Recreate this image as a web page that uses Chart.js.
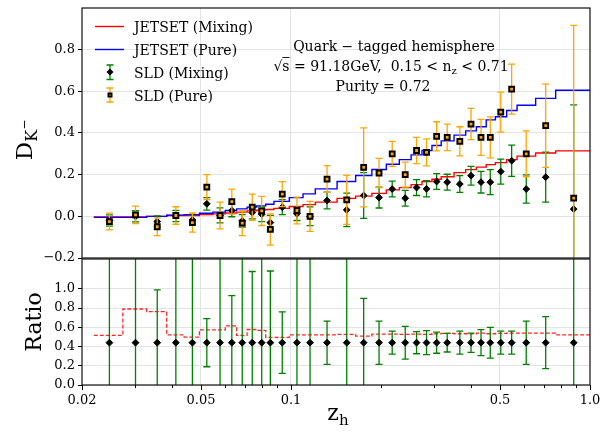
<!DOCTYPE html>
<html>
<head>
<meta charset="utf-8">
<script src="https://cdn.jsdelivr.net/npm/chart.js@4"></script>
<style>
  html, body { margin: 0; padding: 0; background: #fff; }
  #wrap { position: relative; width: 602px; height: 436px; }
  #topBox { position: absolute; left: 0; top: 0; width: 602px; height: 264px; }
  #botBox { position: absolute; left: 0; top: 254px; width: 602px; height: 182px; }
</style>
</head>
<body>
<div id="wrap">
  <div id="topBox"><canvas id="topChart"></canvas></div>
  <div id="botBox"><canvas id="ratioChart"></canvas></div>
</div>
<script>
// bin edges of the JETSET histograms (z_h)
const binEdges = [0.0219, 0.0274, 0.0329, 0.0384, 0.0439, 0.0494, 0.0548, 0.0603, 0.0658, 0.0713,
  0.0768, 0.0823, 0.0877, 0.0987, 0.1097, 0.1206, 0.1426, 0.1645, 0.1864, 0.2084,
  0.2303, 0.2522, 0.2742, 0.2961, 0.3180, 0.3510, 0.3839, 0.4168, 0.4497, 0.4826,
  0.5264, 0.5703, 0.6580, 0.7677, 1.0];

const jetsetPure = [-0.005, -0.005, 0.0, 0.006, 0.008, 0.015, 0.02, 0.028, 0.036, 0.044,
  0.05, 0.058, 0.072, 0.09, 0.108, 0.132, 0.167, 0.196, 0.225, 0.25,
  0.272, 0.295, 0.316, 0.34, 0.362, 0.39, 0.41, 0.43, 0.463, 0.478,
  0.508, 0.533, 0.566, 0.605];

const jetsetMixing = [-0.003, -0.003, 0.0, 0.004, 0.004, 0.008, 0.012, 0.016, 0.02, 0.026,
  0.03, 0.033, 0.038, 0.047, 0.056, 0.068, 0.086, 0.097, 0.11, 0.127,
  0.138, 0.152, 0.167, 0.178, 0.19, 0.21, 0.224, 0.236, 0.248, 0.258,
  0.272, 0.289, 0.304, 0.314];

const jetsetRatio = [0.515, 0.79, 0.763, 0.522, 0.498, 0.574, 0.574, 0.615, 0.515, 0.577,
  0.567, 0.495, 0.495, 0.522, 0.522, 0.522, 0.526, 0.508, 0.529, 0.529,
  0.526, 0.529, 0.526, 0.533, 0.536, 0.533, 0.533, 0.539, 0.533, 0.536,
  0.54, 0.54, 0.54, 0.522];

// SLD measurements
const zPoints = [0.0247, 0.0302, 0.0357, 0.0412, 0.0468, 0.0523, 0.0579, 0.0634, 0.0687, 0.0742,
  0.0798, 0.0853, 0.0935, 0.1047, 0.1158, 0.132, 0.1536, 0.175, 0.197, 0.218,
  0.241, 0.263, 0.284, 0.307, 0.333, 0.367, 0.400, 0.432, 0.464, 0.503,
  0.547, 0.612, 0.711, 0.882];

const sldMixing = [-0.02, 0.0, -0.025, 0.002, -0.017, 0.06, 0.005, 0.028, -0.022, 0.018,
  0.01, -0.03, 0.044, 0.012, 0.0, 0.076, 0.031, 0.1, 0.09, 0.131,
  0.087, 0.138, 0.132, 0.167, 0.164, 0.155, 0.195, 0.164, 0.164, 0.215,
  0.267, 0.131, 0.188, 0.035];
const sldMixingErr = [0.027, 0.027, 0.027, 0.027, 0.022, 0.03, 0.036, 0.03, 0.03, 0.03,
  0.035, 0.035, 0.036, 0.032, 0.045, 0.04, 0.08, 0.11, 0.05, 0.038,
  0.038, 0.038, 0.039, 0.038, 0.038, 0.04, 0.045, 0.052, 0.06, 0.06,
  0.075, 0.068, 0.12, 0.5];

const sldPure = [-0.025, 0.007, -0.05, 0.004, -0.03, 0.14, 0.004, 0.071, -0.033, 0.044,
  0.026, -0.063, 0.107, 0.028, 0.0, 0.179, 0.079, 0.235, 0.208, 0.30,
  0.20, 0.316, 0.307, 0.384, 0.379, 0.36, 0.443, 0.379, 0.379, 0.50,
  0.611, 0.30, 0.435, 0.087];
const sldPureErr = [0.04, 0.042, 0.043, 0.042, 0.046, 0.06, 0.064, 0.06, 0.06, 0.063,
  0.07, 0.075, 0.06, 0.064, 0.072, 0.064, 0.118, 0.19, 0.07, 0.06,
  0.06, 0.063, 0.065, 0.07, 0.064, 0.07, 0.075, 0.086, 0.098, 0.096,
  0.12, 0.11, 0.2, 0.83];

const sldRatio = [0.44, 0.44, 0.44, 0.44, 0.44, 0.44, 0.44, 0.44, 0.44, 0.44,
  0.44, 0.44, 0.44, 0.44, 0.44, 0.44, 0.44, 0.44, 0.44, 0.44,
  0.44, 0.44, 0.44, 0.44, 0.44, 0.44, 0.44, 0.44, 0.44, 0.44,
  0.44, 0.44, 0.44, 0.44];
const sldRatioErr = [1.2, 1.2, 0.55, 1.2, 1.2, 0.25, 1.2, 0.49, 1.2, 0.74,
  1.2, 0.745, 0.32, 1.2, 1.2, 0.225, 1.2, 0.46, 0.225, 0.12,
  0.17, 0.115, 0.125, 0.11, 0.097, 0.12, 0.1, 0.135, 0.16, 0.12,
  0.12, 0.225, 0.27, 1.2];

const xTicks = [0.02, 0.03, 0.04, 0.05, 0.06, 0.07, 0.08, 0.09, 0.1, 0.2, 0.3, 0.4, 0.5, 0.6, 0.7, 0.8, 0.9, 1.0];
const xTickLabels = ['0.02', '', '', '0.05', '', '', '', '', '0.1', '', '', '', '0.5', '', '', '', '', '1.0'];
const topTicks = [-0.2, 0, 0.2, 0.4, 0.6, 0.8];
const topTickLabels = ['\u22120.2', '0.0', '0.2', '0.4', '0.6', '0.8'];
const ratioTicks = [0, 0.2, 0.4, 0.6, 0.8, 1.0];
const ratioTickLabels = ['0.0', '0.2', '0.4', '0.6', '0.8', '1.0'];

const SERIF = '"DejaVu Serif", serif';
const GRID = '#e3e3e3';
Chart.defaults.font.family = SERIF;
Chart.defaults.color = '#000';
Chart.defaults.animation = false;

function stepPoints(values) {
  const pts = values.map((v, i) => ({ x: binEdges[i], y: v }));
  pts.push({ x: binEdges[binEdges.length - 1], y: values[values.length - 1] });
  return pts;
}

function pointsOf(values) {
  return zPoints.map((z, i) => ({ x: z, y: values[i] }));
}

function xGridColor(ctx) {
  const v = ctx.tick ? ctx.tick.value : null;
  return (v === 0.05 || v === 0.1 || v === 0.5) ? GRID : 'rgba(0,0,0,0)';
}

// y axis keeps a fixed width and no extra room for edge labels
function fixY(s) {
  s.width = 82;
  s.paddingTop = 0;
  s.paddingBottom = 0;
}

// draws text pieces with own size / vertical shift (sub- and superscripts)
function drawRich(ctx, parts, x, y, align) {
  let w = 0;
  parts.forEach(p => {
    ctx.font = p.size + 'px ' + SERIF;
    p.w = ctx.measureText(p.t).width;
    w += p.w;
  });
  let cx = align === 'center' ? x - w / 2 : x;
  ctx.textAlign = 'left';
  ctx.textBaseline = 'alphabetic';
  parts.forEach(p => {
    ctx.font = p.size + 'px ' + SERIF;
    ctx.fillText(p.t, cx, y + (p.dy || 0));
    if (p.over) {
      ctx.beginPath();
      ctx.lineWidth = 0.9;
      ctx.moveTo(cx, y - p.size * 0.93);
      ctx.lineTo(cx + p.w, y - p.size * 0.93);
      ctx.stroke();
    }
    cx += p.w;
  });
}

function errorBar(ctx, px, top, bot, color) {
  ctx.strokeStyle = color;
  ctx.lineWidth = 1.3;
  ctx.beginPath();
  ctx.moveTo(px, top); ctx.lineTo(px, bot);
  ctx.moveTo(px - 3.5, top); ctx.lineTo(px + 3.5, top);
  ctx.moveTo(px - 3.5, bot); ctx.lineTo(px + 3.5, bot);
  ctx.stroke();
}

const errorBars = {
  id: 'errorBars',
  beforeDatasetDraw(chart, args) {
    const ds = chart.data.datasets[args.index];
    if (!ds.errors) return;
    const { ctx, chartArea } = chart;
    const xs = chart.scales.x, ys = chart.scales.y;
    ctx.save();
    ctx.beginPath();
    ctx.rect(chartArea.left, chartArea.top, chartArea.width, chartArea.height);
    ctx.clip();
    ds.data.forEach((p, i) => {
      const px = xs.getPixelForValue(p.x);
      errorBar(ctx, px, ys.getPixelForValue(p.y + ds.errors[i]), ys.getPixelForValue(p.y - ds.errors[i]), ds.errorColor);
    });
    ctx.restore();
  }
};

const frame = {
  id: 'frame',
  afterDraw(chart) {
    const { ctx, chartArea: a } = chart;
    ctx.save();
    ctx.strokeStyle = '#111';
    ctx.lineWidth = 1.2;
    ctx.strokeRect(a.left, a.top, a.right - a.left, a.bottom - a.top);
    ctx.restore();
  }
};

const topDecor = {
  id: 'topDecor',
  afterDraw(chart) {
    const ctx = chart.ctx;
    ctx.save();
    ctx.fillStyle = '#000';
    ctx.strokeStyle = '#000';
    // legend
    ctx.lineWidth = 1.4;
    ctx.strokeStyle = '#ff0000';
    ctx.beginPath(); ctx.moveTo(95, 26.5); ctx.lineTo(124, 26.5); ctx.stroke();
    ctx.strokeStyle = '#0000ff';
    ctx.beginPath(); ctx.moveTo(95, 49.5); ctx.lineTo(124, 49.5); ctx.stroke();
    errorBar(ctx, 110, 65, 79.5, '#008000');
    ctx.fillStyle = '#000';
    ctx.beginPath(); ctx.moveTo(110, 68.5); ctx.lineTo(113.5, 72); ctx.lineTo(110, 75.5); ctx.lineTo(106.5, 72); ctx.closePath(); ctx.fill();
    errorBar(ctx, 110, 88, 102, '#ffa500');
    ctx.fillStyle = '#000';
    ctx.fillRect(107.5, 92.5, 5, 5);
    ctx.fillStyle = '#ffa500';
    ctx.fillRect(109.5, 94.5, 1.2, 1.2);
    ctx.fillStyle = '#000';
    ctx.strokeStyle = '#000';
    drawRich(ctx, [{ t: 'JETSET (Mixing)', size: 14 }], 134, 31.5);
    drawRich(ctx, [{ t: 'JETSET (Pure)', size: 14 }], 134, 54.5);
    drawRich(ctx, [{ t: 'SLD (Mixing)', size: 14 }], 134, 77.5);
    drawRich(ctx, [{ t: 'SLD (Pure)', size: 14 }], 134, 100.5);
    // annotation
    drawRich(ctx, [{ t: 'Quark \u2212 tagged hemisphere', size: 14 }], 394, 50.5, 'center');
    drawRich(ctx, [
      { t: '\u221a', size: 14 }, { t: 's', size: 14, over: true },
      { t: ' = 91.18GeV,  0.15 < n', size: 14 }, { t: 'z', size: 10, dy: 3 },
      { t: ' < 0.71', size: 14 }
    ], 391, 70.5, 'center');
    drawRich(ctx, [{ t: 'Purity = 0.72', size: 14 }], 383, 90.5, 'center');
    // y title
    ctx.translate(32, 140);
    ctx.rotate(-Math.PI / 2);
    drawRich(ctx, [{ t: 'D', size: 23 }, { t: 'K', size: 16, dy: 5 }, { t: '\u2212', size: 12, dy: -4 }], 0, 0, 'center');
    ctx.restore();
  }
};

const bottomDecor = {
  id: 'bottomDecor',
  afterDraw(chart) {
    const ctx = chart.ctx;
    const xs = chart.scales.x;
    const a = chart.chartArea;
    ctx.save();
    ctx.strokeStyle = '#000';
    ctx.lineWidth = 1;
    xTicks.forEach((v, i) => {
      const px = Math.round(xs.getPixelForValue(v)) + 0.5;
      const len = xTickLabels[i] ? 5 : 3;
      ctx.beginPath(); ctx.moveTo(px, a.bottom); ctx.lineTo(px, a.bottom + len); ctx.stroke();
    });
    ctx.fillStyle = '#000';
    drawRich(ctx, [{ t: 'z', size: 22 }, { t: 'h', size: 15, dy: 5 }], 338, a.bottom + 35, 'center');
    ctx.translate(41, (a.top + a.bottom) / 2);
    ctx.rotate(-Math.PI / 2);
    drawRich(ctx, [{ t: 'Ratio', size: 22 }], 0, 0, 'center');
    ctx.restore();
  }
};

new Chart(document.getElementById('topChart'), {
  type: 'scatter',
  data: {
    datasets: [
      {
        label: 'SLD (Pure)', data: pointsOf(sldPure), errors: sldPureErr, errorColor: '#ffa500',
        pointStyle: 'rect', pointRadius: 3.4, backgroundColor: '#ffa500', borderColor: '#000', borderWidth: 2
      },
      {
        label: 'SLD (Mixing)', data: pointsOf(sldMixing), errors: sldMixingErr, errorColor: '#008000',
        pointStyle: 'rectRot', pointRadius: 3.4, backgroundColor: '#000', borderColor: '#000', borderWidth: 1
      },
      {
        label: 'JETSET (Pure)', type: 'line', data: stepPoints(jetsetPure), stepped: 'before',
        borderColor: '#0000ff', borderWidth: 1.4, pointRadius: 0, fill: false
      },
      {
        label: 'JETSET (Mixing)', type: 'line', data: stepPoints(jetsetMixing), stepped: 'before',
        borderColor: '#ff0000', borderWidth: 1.4, pointRadius: 0, fill: false
      }
    ]
  },
  options: {
    responsive: true,
    maintainAspectRatio: false,
    layout: { padding: { left: 0, right: 12, top: 8, bottom: 2 } },
    plugins: { legend: { display: false }, tooltip: { enabled: false } },
    scales: {
      x: {
        type: 'logarithmic', min: 0.02, max: 1.0,
        afterBuildTicks: s => { s.ticks = xTicks.map(v => ({ value: v })); },
        ticks: { display: false },
        grid: { color: xGridColor, drawTicks: false },
        border: { display: false },
        afterFit: s => { s.height = 0; s.paddingLeft = 0; s.paddingRight = 0; }
      },
      y: {
        min: -0.2, max: 1.0,
        afterBuildTicks: s => { s.ticks = topTicks.map(v => ({ value: v })); },
        ticks: { callback: (v, i) => topTickLabels[i], font: { size: 13 }, padding: 3, color: '#000' },
        grid: { color: GRID, tickColor: '#000', tickLength: 4 },
        border: { display: false },
        afterFit: fixY
      }
    }
  },
  plugins: [errorBars, frame, topDecor]
});

new Chart(document.getElementById('ratioChart'), {
  type: 'scatter',
  data: {
    datasets: [
      {
        label: 'SLD ratio', data: pointsOf(sldRatio), errors: sldRatioErr, errorColor: '#008000',
        pointStyle: 'rectRot', pointRadius: 3.4, backgroundColor: '#000', borderColor: '#000', borderWidth: 1
      },
      {
        label: 'JETSET ratio', type: 'line', data: stepPoints(jetsetRatio), stepped: 'before',
        borderColor: 'rgba(255,0,0,0.85)', borderWidth: 1.3, borderDash: [4, 2], pointRadius: 0, fill: false
      }
    ]
  },
  options: {
    responsive: true,
    maintainAspectRatio: false,
    layout: { padding: { left: 0, right: 12, top: 1, bottom: 0 } },
    plugins: { legend: { display: false }, tooltip: { enabled: false } },
    scales: {
      x: {
        type: 'logarithmic', min: 0.02, max: 1.0,
        afterBuildTicks: s => { s.ticks = xTicks.map(v => ({ value: v })); },
        ticks: { callback: (v, i) => xTickLabels[i], autoSkip: false, maxRotation: 0, font: { size: 13 }, padding: 3, color: '#000' },
        grid: { color: xGridColor, tickColor: 'rgba(0,0,0,0)', tickLength: 5 },
        border: { display: false },
        afterFit: s => { s.height = 51; s.paddingLeft = 0; s.paddingRight = 0; }
      },
      y: {
        min: 0, max: 1.31,
        afterBuildTicks: s => { s.ticks = ratioTicks.map(v => ({ value: v })); },
        ticks: { callback: (v, i) => ratioTickLabels[i], font: { size: 13 }, padding: 3, color: '#000' },
        grid: { color: GRID, tickColor: '#000', tickLength: 4 },
        border: { display: false },
        afterFit: fixY
      }
    }
  },
  plugins: [errorBars, frame, bottomDecor]
});
</script>
</body>
</html>
